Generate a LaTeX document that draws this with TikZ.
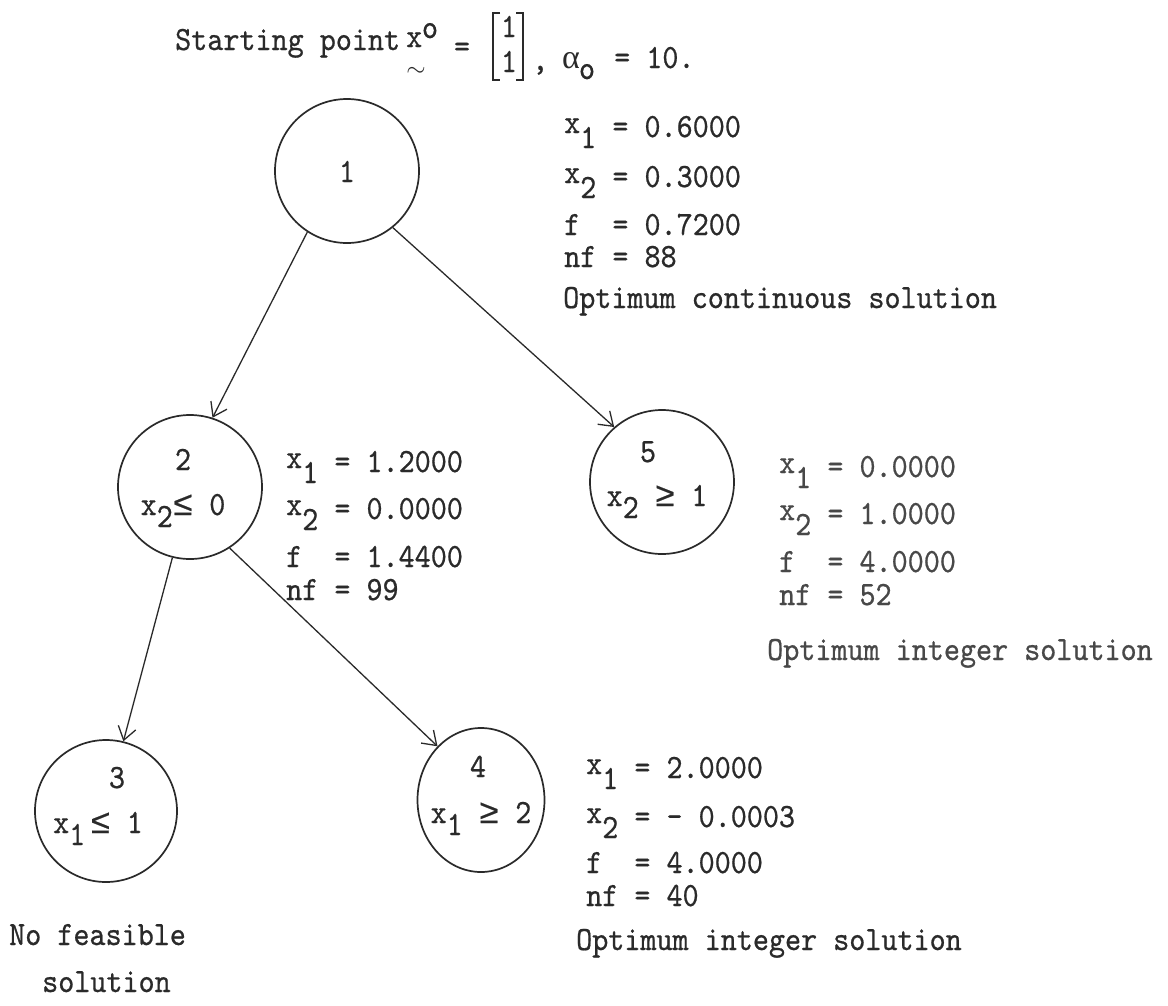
\documentclass[tikz,border=0pt]{standalone}
\usepackage{fontspec}
\usetikzlibrary{arrows.meta,shapes.geometric}
\newfontfamily\tw[FakeStretch=0.9,FakeBold=0.6]{lmmono10-regular.otf}
\newfontfamily\gk{Liberation Serif}
\newfontfamily\symf[FakeBold=0.4]{Liberation Mono}
\definecolor{ink}{HTML}{2a2a2a}
\definecolor{inkl}{HTML}{484848}
\newcommand\xr[1]{\raisebox{4pt}{x}\raisebox{-11pt}{#1}}
\newcommand\xn[1]{x\raisebox{-12pt}{#1}}
\newcommand\lesym{{\symf ≤}}
\newcommand\gesym{{\symf ≥}}
\begin{document}
\begin{tikzpicture}[x=1pt,y=-1pt,
  txt/.style={font=\tw\fontsize{34}{40}\selectfont, text=ink, inner sep=0pt, anchor=base west},
  ctxt/.style={txt, anchor=base},
  lite/.style={text=inkl},
  nodecirc/.style={draw=ink, line width=1.7pt, circle, minimum size=144pt, inner sep=0pt},
  edge/.style={draw=ink, line width=1.3pt, -{Straight Barb[length=13pt,width=18pt,line width=1.3pt]}}]
\fill[white] (0,0) rectangle (1168,1005);
\useasboundingbox (0,0) rectangle (1168,1005);

% title
\node[txt] (t1) at (175,50) {Starting point};
\node[txt] (tx) at (406,47) {x};
\node[font=\fontsize{30}{30}\selectfont, text=ink, inner sep=0pt] (ttil) at (416,72) {$\sim$};
\node[ctxt] (tsup) at (430,38) {o};
\node[ctxt] (teq) at (462,57) {=};
\draw[ink, line width=1.6pt] (500,13) -- (493,13) -- (493,80) -- (500,80);
\draw[ink, line width=1.6pt] (516,13) -- (523,13) -- (523,80) -- (516,80);
\node[ctxt] (tm1) at (509,37) {1};
\node[ctxt] (tm2) at (509,72) {1};
\node[txt] (tcom) at (532,70) {,};
\node[txt, font=\gk\fontsize{34}{40}\selectfont] (talpha) at (562,68) {α};
\node[ctxt] (tsub) at (587,79) {o};
\node[txt] (tten) at (614,68) {= 10.};

% circles
\node[nodecirc] (n1) at (347,171) {};
\node[nodecirc] (n2) at (190,487) {};
\node[nodecirc] (n5) at (662,482) {};
\node[nodecirc, minimum size=142pt] (n3) at (106,811) {};
\node[draw=ink, line width=1.7pt, ellipse, minimum width=127pt, minimum height=144pt, inner sep=0pt] (n4) at (481,800) {};

% circle labels
\node[ctxt] (l1) at (347,182) {1};
\node[ctxt] (l2) at (183,470) {2};
\node[ctxt] (c2) at (183,515) {\xn{2}\lesym\ 0};
\node[ctxt] (l5) at (648,462) {5};
\node[ctxt] (c5) at (657,506) {\xn{2} \gesym\ 1};
\node[ctxt] (l3) at (117,788) {3};
\node[ctxt] (c3) at (98,833) {\xn{1}\kern5pt\lesym\ 1};
\node[ctxt] (l4) at (478,777) {4};
\node[ctxt] (c4) at (481,823) {\xn{1} \gesym\ 2};

% edges
\draw[edge] (n1.237) -- (n2.72);
\draw[edge] (n1.309) -- (n5.131);
\draw[edge] (n2.256) -- (n3.76);
\draw[edge] (n2.303) -- (n4.129);

% block 1
\node[txt] (a1) at (564,137) {\xr{1} = 0.6000};
\node[txt] (a2) at (564,187) {\xr{2} = 0.3000};
\node[txt] (a3) at (564,235) {f\ \ = 0.7200};
\node[txt] (a4) at (564,267) {nf = 88};
\node[txt] (a5) at (563,308) {Optimum continuous solution};

% block 2
\node[txt] (b1) at (286,472) {\xr{1} = 1.2000};
\node[txt] (b2) at (286,519) {\xr{2} = 0.0000};
\node[txt] (b3) at (286,567) {f\ \ = 1.4400};
\node[txt] (b4) at (286,600) {nf = 99};

% block 5
\node[txt, lite] (e1) at (779,477) {\xr{1} = 0.0000};
\node[txt, lite] (e2) at (779,524) {\xr{2} = 1.0000};
\node[txt, lite] (e3) at (779,572) {f\ \ = 4.0000};
\node[txt, lite] (e4) at (779,605) {nf = 52};
\node[txt, lite] (e5) at (767,660) {Optimum integer solution};

% block 4
\node[txt] (d1) at (586,778) {\xr{1} = 2.0000};
\node[txt] (d2) at (586,827) {\xr{2} = - 0.0003};
\node[txt] (d3) at (586,873) {f\ \ = 4.0000};
\node[txt] (d4) at (586,906) {nf = 40};
\node[txt] (d5) at (576,950) {Optimum integer solution};

% no feasible
\node[txt] (g1) at (9,945) {No feasible};
\node[txt] (g2) at (42,992) {solution};
\end{tikzpicture}
\end{document}
